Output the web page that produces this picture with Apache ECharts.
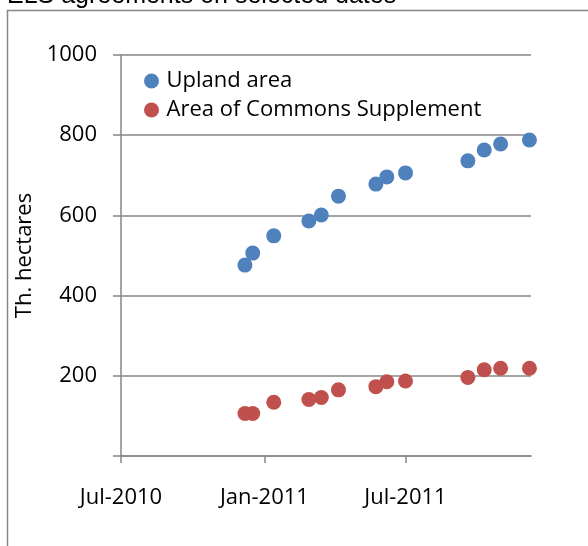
<!DOCTYPE html>
<html>
<head>
<meta charset="utf-8">
<script src="https://cdn.jsdelivr.net/npm/echarts@6/dist/echarts.min.js"></script>
<style>
html,body{margin:0;padding:0;background:#fff;}
#chart{width:588px;height:546px;}
</style>
</head>
<body>
<div id="chart"></div>
<script>
// ---- data ----
var titleText = 'ELS agreements on selected dates';
var dates = ['2010-12-07','2010-12-17','2011-01-13','2011-02-27','2011-03-15','2011-04-06','2011-05-24','2011-06-07','2011-07-01','2011-09-19','2011-10-10','2011-10-31','2011-12-07'];
var uplandArea = [476, 506, 549, 586, 601, 648, 678, 696, 706, 736, 763, 778, 788];
var commonsArea = [106, 106, 134, 141, 146, 165, 173, 185, 187, 196, 215, 219, 219];
var seriesNames = ['Upland area', 'Area of Commons Supplement'];
var xTickDates = ['2010-07-01', '2011-01-01', '2011-07-01'];
var xTickLabels = ['Jul-2010', 'Jan-2011', 'Jul-2011'];
var xRange = ['2010-07-01', '2011-12-09'];
var yTickLabels = ['', '200', '400', '600', '800', '1000'];
var yAxisName = 'Th. hectares';

function ts(s){ var p = s.split('-'); return Date.UTC(+p[0], +p[1]-1, +p[2]); }
var xTickVals = xTickDates.map(ts);
function pairs(vals){ return dates.map(function(d,i){ return [ts(d), vals[i]]; }); }

var gray = '#868686';
var font = 'Open Sans';
var fs = 22;
var chart = echarts.init(document.getElementById('chart'), null, {renderer:'canvas'});
chart.setOption({
  animation: false,
  backgroundColor: '#fff',
  title: {
    text: titleText, left: 7, top: -16, padding: 0,
    textStyle: {fontFamily: 'Liberation Sans', fontSize: 25, fontWeight: 'normal', color: '#000'}
  },
  graphic: [{
    type: 'rect', silent: true, z: -1,
    shape: {x: 7.5, y: 10.5, width: 700, height: 700},
    style: {fill: 'none', stroke: gray, lineWidth: 1.5}
  }],
  legend: {
    orient: 'vertical', left: 144, top: 70, padding: 0,
    itemWidth: 20, itemHeight: 15, itemGap: 7,
    icon: 'circle',
    textStyle: {fontFamily: font, fontSize: fs, color: '#000'},
    data: seriesNames
  },
  grid: {left: 121, top: 55, right: 57, bottom: 90, containLabel: false},
  xAxis: {
    type: 'value',
    min: ts(xRange[0]), max: ts(xRange[1]),
    axisLine: {show: true, lineStyle: {color: gray, width: 1.5}},
    axisTick: {show: true, length: 7, inside: false, lineStyle: {color: gray, width: 1.5}, customValues: xTickVals},
    axisLabel: {
      customValues: xTickVals, margin: 31,
      fontFamily: font, fontSize: fs, color: '#000',
      formatter: function(v){ var i = xTickVals.indexOf(v); return i >= 0 ? xTickLabels[i] : ''; }
    },
    splitLine: {show: false}
  },
  yAxis: {
    type: 'value', min: 0, max: 1000, interval: 200,
    name: yAxisName, nameLocation: 'middle', nameGap: 79, nameRotate: 90,
    nameTextStyle: {fontFamily: font, fontSize: fs, color: '#000'},
    axisLine: {show: true, lineStyle: {color: gray, width: 1.5}},
    axisTick: {show: true, length: 8, inside: false, lineStyle: {color: gray, width: 1.5}},
    axisLabel: {
      margin: 24, fontFamily: font, fontSize: fs, color: '#000',
      formatter: function(v){ return yTickLabels[Math.round(v/200)]; }
    },
    splitLine: {show: true, lineStyle: {color: gray, width: 1.5}}
  },
  series: [
    {name: seriesNames[0], type: 'scatter', symbol: 'circle', symbolSize: 15,
     itemStyle: {color: '#4F81BD', opacity: 1}, data: pairs(uplandArea)},
    {name: seriesNames[1], type: 'scatter', symbol: 'circle', symbolSize: 15,
     itemStyle: {color: '#C0504D', opacity: 1}, data: pairs(commonsArea)}
  ]
});
</script>
</body>
</html>
